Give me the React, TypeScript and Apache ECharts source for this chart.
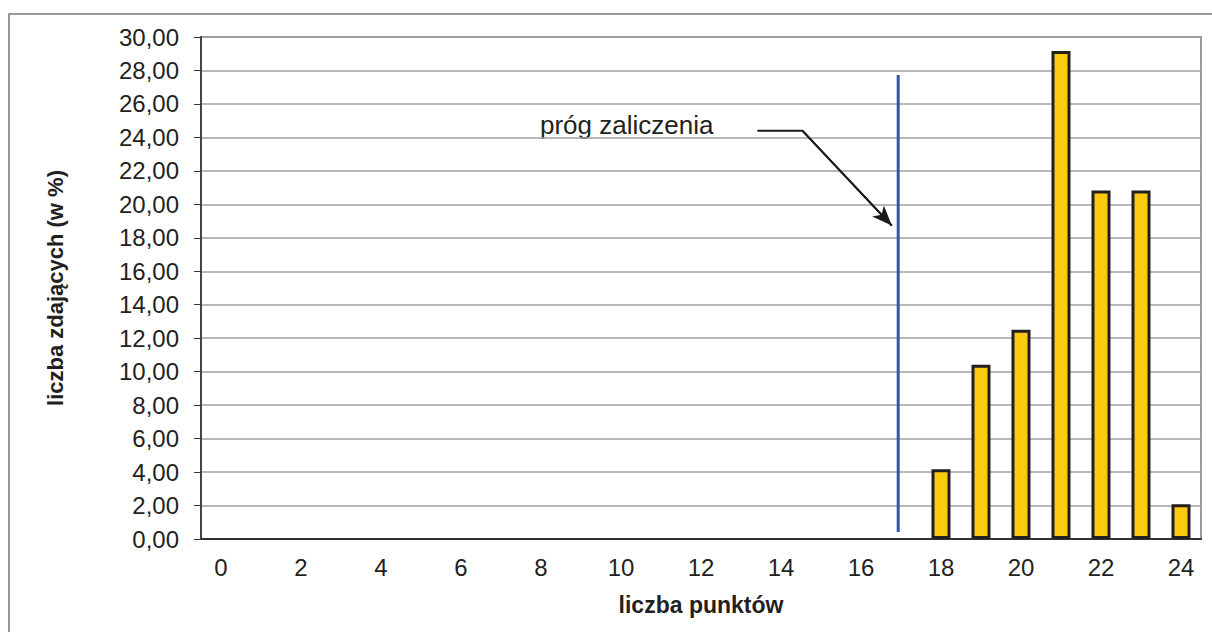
import React, { useEffect, useRef } from "react";
import * as echarts from "echarts";

const categories = Array.from({ length: 25 }, (_, i) => String(i));
const percentValues = [0, 0, 0, 0, 0, 0, 0, 0, 0, 0, 0, 0, 0, 0, 0, 0, 0, 0, 4.17, 10.42, 12.5, 29.17, 20.83, 20.83, 2.08];
const thresholdLine = [[16.93, 0.42], [16.93, 27.73]];
const arrowPath = [[13.41, 24.39], [14.54, 24.39], [16.77, 18.73]];
const annotationText = "próg zaliczenia";
const xAxisTitle = "liczba punktów";
const yAxisTitle = "liczba zdających (w %)";

const FONT = "'Liberation Sans', Arial, sans-serif";

export default function App() {
  const ref = useRef<HTMLDivElement>(null);
  useEffect(() => {
    if (!ref.current) return;
    const chart = echarts.init(ref.current, null, { renderer: "svg" });
    chart.setOption({
      animation: false,
      backgroundColor: "#ffffff",
      textStyle: { fontFamily: FONT },
      grid: { left: 201, top: 37, right: 11, bottom: 93, show: true, borderColor: "#9a9a9a", borderWidth: 2, backgroundColor: "transparent" },
      xAxis: [
        {
          type: "category",
          data: categories,
          boundaryGap: true,
          axisLine: { onZero: false, lineStyle: { color: "#333", width: 2 } },
          axisTick: { interval: 0, length: 7, lineStyle: { color: "#333", width: 1 } },
          axisLabel: { interval: 1, fontSize: 24, color: "#231f20", margin: 16, fontFamily: FONT },
          name: xAxisTitle,
          nameLocation: "middle",
          nameGap: 54,
          nameTextStyle: { fontSize: 23, fontWeight: "bold", color: "#231f20", fontFamily: FONT },
          splitLine: { show: false },
        },
        { type: "value", min: -0.5, max: 24.5, show: false },
      ],
      yAxis: {
        type: "value",
        min: 0,
        max: 30,
        interval: 2,
        axisLine: { show: true, onZero: false, lineStyle: { color: "#444", width: 2 } },
        axisTick: { show: true, length: 7, lineStyle: { color: "#333", width: 1 } },
        axisLabel: { fontSize: 24, color: "#231f20", margin: 22, fontFamily: FONT, formatter: (v: number) => v.toFixed(2).replace(".", ",") },
        splitLine: { lineStyle: { color: "#a0a0a0", width: 1.5 } },
        name: yAxisTitle,
        nameLocation: "middle",
        nameRotate: 90,
        nameGap: 135,
        nameTextStyle: { fontSize: 22, fontWeight: "bold", color: "#231f20", fontFamily: FONT },
      },
      series: [
        {
          type: "bar",
          xAxisIndex: 0,
          data: percentValues.map((v) => (v === 0 ? null : v)),
          barWidth: 19,
          itemStyle: { color: "#fdca10", borderColor: "#231f20", borderWidth: 3 },
        },
        {
          type: "line",
          xAxisIndex: 1,
          data: thresholdLine,
          symbol: "none",
          lineStyle: { color: "#3157a8", width: 3 },
          z: 5,
        },
        {
          type: "line",
          xAxisIndex: 1,
          data: arrowPath,
          symbol: "none",
          lineStyle: { color: "#1a1a1a", width: 2 },
          z: 6,
          markLine: {
            silent: true,
            symbol: ["none", "arrow"],
            symbolSize: [12, 20],
            label: { show: false },
            lineStyle: { color: "#1a1a1a", width: 2, type: "solid" },
            data: [[{ coord: arrowPath[1] }, { coord: arrowPath[2] }]],
          },
        },
      ],
      graphic: [
        {
          type: "rect",
          shape: { x: 9, y: 14, width: 1400, height: 800 },
          style: { fill: "none", stroke: "#777777", lineWidth: 1.5 },
          silent: true,
        },
        {
          type: "text",
          x: 540,
          y: 125,
          style: { text: annotationText, fontSize: 26, fill: "#231f20", fontFamily: FONT, verticalAlign: "middle", align: "left" },
        },
      ],
    });
    return () => chart.dispose();
  }, []);
  return <div ref={ref} style={{ position: "fixed", left: 0, top: 0, width: 1212, height: 632 }} />;
}
